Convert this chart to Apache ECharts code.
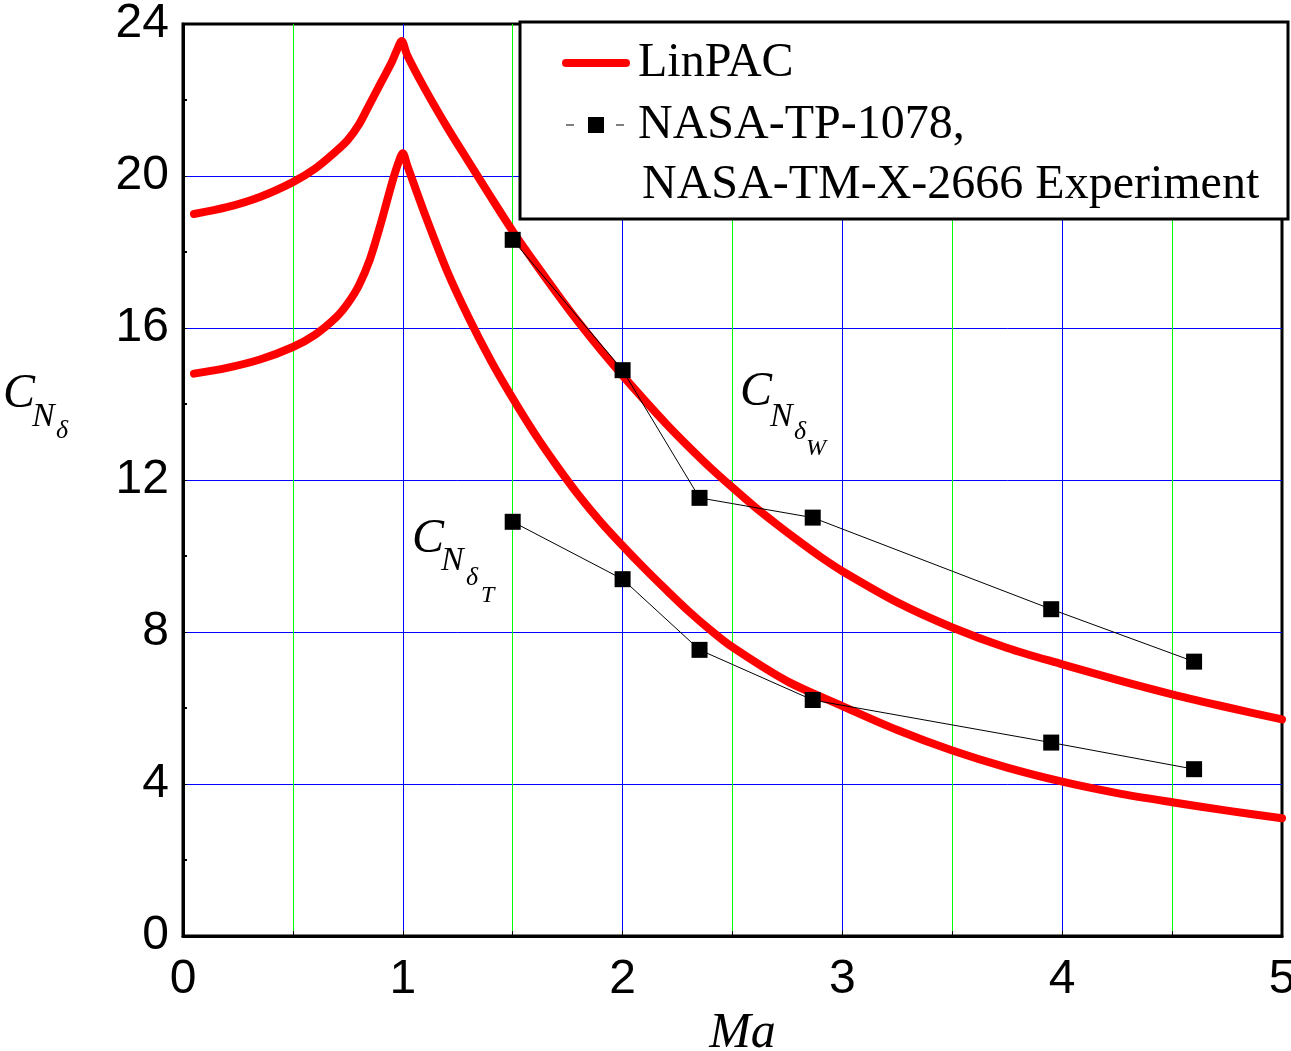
<!DOCTYPE html>
<html>
<head>
<meta charset="utf-8">
<script src="https://cdn.jsdelivr.net/npm/echarts@6/dist/echarts.min.js"></script>
<style>
html,body{margin:0;padding:0;background:#fff;}
#main{width:1291px;height:1051px;}
</style>
</head>
<body>
<div id="main"></div>
<script>
// ---- Data ----
const linpacW_ma = [0.05,0.2,0.35,0.5,0.6,0.7,0.75,0.8,0.85,0.9,0.95,0.97,0.995,1.02,1.1,1.2,1.3,1.4,1.5,1.6,1.7,1.8,1.9,2.0,2.1,2.2,2.3,2.4,2.5,2.6,2.7,2.8,2.9,3.0,3.25,3.5,3.75,4.0,4.25,4.5,4.75,5.0];
const linpacW_cn = [19.0,19.18,19.45,19.84,20.19,20.67,20.95,21.35,21.9,22.45,23.0,23.27,23.55,23.18,22.3,21.3,20.37,19.45,18.55,17.72,16.92,16.15,15.43,14.75,14.1,13.47,12.88,12.32,11.8,11.3,10.84,10.4,9.98,9.6,8.78,8.12,7.58,7.15,6.74,6.36,6.02,5.7];

const linpacT_ma = [0.05,0.2,0.35,0.5,0.6,0.7,0.75,0.8,0.85,0.9,0.95,0.98,1.0,1.02,1.1,1.2,1.3,1.4,1.5,1.6,1.7,1.8,1.9,2.0,2.1,2.2,2.3,2.4,2.5,2.75,3.0,3.25,3.5,3.75,4.0,4.25,4.5,4.75,5.0];
const linpacT_cn = [14.8,14.95,15.17,15.5,15.82,16.3,16.65,17.12,17.8,18.75,19.8,20.35,20.6,20.28,19.0,17.52,16.27,15.15,14.15,13.22,12.38,11.6,10.9,10.27,9.67,9.1,8.55,8.05,7.6,6.7,6.05,5.42,4.88,4.43,4.06,3.76,3.52,3.3,3.1];

const expW_ma = [1.5,2.0,2.35,2.865,3.95,4.6];
const expW_cn = [18.32,14.89,11.53,11.01,8.6,7.22];
const expT_ma = [1.5,2.0,2.35,2.865,3.95,4.6];
const expT_cn = [10.9,9.39,7.53,6.21,5.09,4.39];

const xTicks = [0,1,2,3,4,5];
const yTicks = [0,4,8,12,16,20,24];

const nameLinPAC = 'LinPAC';
const nameExp = 'NASA-TP-1078, NASA-TM-X-2666 Experiment';

// ---- helpers ----
const zip = (a, b) => a.map((v, i) => [v, b[i]]);
const SERIF = "'Times New Roman','Liberation Serif',serif";
const SANS = "Arial,'Liberation Sans',sans-serif";

function txt(x, y, text, size, italic, z) {
  return {
    type: 'text', x: x, y: y, z: z || 6, silent: true,
    style: {
      text: text, fill: '#000',
      font: (italic ? 'italic ' : '') + size + 'px ' + SERIF,
      textAlign: 'left', textVerticalAlign: 'middle'
    }
  };
}

const chart = echarts.init(document.getElementById('main'), null, {renderer: 'canvas'});

const redLine = {color: '#ff0000', width: 8, cap: 'round', join: 'round'};
const expLine = {color: '#000', width: 1};

chart.setOption({
  animation: false,
  backgroundColor: '#fff',
  grid: {
    left: 183, right: 9, top: 24, bottom: 115,
    containLabel: false, outerBoundsMode: 'none',
    show: true, borderColor: '#000', borderWidth: 3, backgroundColor: 'transparent'
  },
  xAxis: {
    type: 'value', min: xTicks[0], max: xTicks[xTicks.length - 1], interval: 1,
    name: 'Ma', nameLocation: 'middle', nameGap: 72,
    nameTextStyle: {fontFamily: SERIF, fontStyle: 'italic', fontSize: 50, color: '#000', padding: [0, 0, 0, 20]},
    axisLine: {show: true, lineStyle: {color: '#000', width: 3}},
    axisTick: {show: true, inside: true, length: 5, lineStyle: {color: '#000', width: 1}},
    minorTick: {show: true, splitNumber: 2, length: 5, lineStyle: {color: '#000', width: 1}},
    axisLabel: {fontFamily: SANS, fontSize: 48, color: '#000', margin: 20},
    splitLine: {show: true, showMinLine: false, showMaxLine: false, lineStyle: {color: '#0000ff', width: 1}},
    minorSplitLine: {show: true, lineStyle: {color: '#00ff00', width: 1}}
  },
  yAxis: {
    type: 'value', min: yTicks[0], max: yTicks[yTicks.length - 1], interval: 4,
    axisLine: {show: true, lineStyle: {color: '#000', width: 3}},
    axisTick: {show: true, inside: true, length: 4, lineStyle: {color: '#000', width: 1}},
    minorTick: {show: true, splitNumber: 2, length: 4, lineStyle: {color: '#000', width: 2}},
    axisLabel: {fontFamily: SANS, fontSize: 48, color: '#000', margin: 14},
    splitLine: {show: true, showMinLine: false, showMaxLine: false, lineStyle: {color: '#0000ff', width: 1}},
    minorSplitLine: {show: false}
  },
  legend: {
    left: 520, top: 22, orient: 'vertical',
    padding: [17, 10, 70, 42], itemGap: 14, itemWidth: 60, itemHeight: 20,
    selectedMode: false, z: 8,
    data: [
      {name: nameLinPAC, itemStyle: {opacity: 0}, lineStyle: {width: 8, cap: 'round', color: '#ff0000'}},
      {name: nameExp, lineStyle: {width: 1, color: '#000', type: [8, 42]}}
    ],
    formatter: n => n === nameExp ? 'NASA-TP-1078,' : n,
    textStyle: {fontFamily: SERIF, fontSize: 48, color: '#000', padding: [0, 0, 0, 7]}
  },
  graphic: {
    elements: [
      {type: 'rect', z: 7, silent: true,
       shape: {x: 520, y: 22, width: 768, height: 197},
       style: {fill: '#fff', stroke: '#000', lineWidth: 3}},
      txt(642, 185, 'NASA-TM-X-2666 Experiment', 48, false, 9),
      // y-axis label C_{N_delta}
      txt(3, 394, 'C', 48, true),
      txt(32, 417, 'N', 34, true),
      txt(56, 431, 'δ', 26, true),
      // C_{N_delta_W}
      txt(740, 392, 'C', 48, true),
      txt(770, 417, 'N', 34, true),
      txt(794, 432, 'δ', 26, true),
      txt(806, 449, 'W', 24, true),
      // C_{N_delta_T}
      txt(412, 539, 'C', 48, true),
      txt(441, 561, 'N', 34, true),
      txt(466, 578, 'δ', 26, true),
      txt(481, 596, 'T', 24, true)
    ]
  },
  series: [
    {name: nameLinPAC, type: 'line', data: zip(linpacW_ma, linpacW_cn), symbol: 'none', showSymbol: false,
     smooth: 0.3, lineStyle: redLine, itemStyle: {color: '#ff0000'}, z: 2},
    {name: nameLinPAC, type: 'line', data: zip(linpacT_ma, linpacT_cn), symbol: 'none', showSymbol: false,
     smooth: 0.3, lineStyle: redLine, itemStyle: {color: '#ff0000'}, z: 2},
    {name: nameExp, type: 'line', data: zip(expW_ma, expW_cn), symbol: 'rect', symbolSize: 16,
     lineStyle: expLine, itemStyle: {color: '#000'}, z: 3},
    {name: nameExp, type: 'line', data: zip(expT_ma, expT_cn), symbol: 'rect', symbolSize: 16,
     lineStyle: expLine, itemStyle: {color: '#000'}, z: 3}
  ]
});
</script>
</body>
</html>
